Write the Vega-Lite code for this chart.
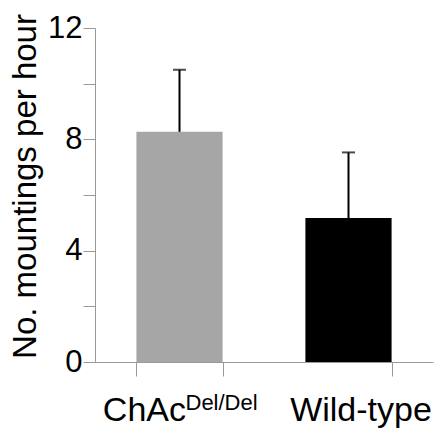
{
  "$schema": "https://vega.github.io/schema/vega-lite/v6.json",
  "width": 338,
  "height": 334,
  "autosize": {"type": "none"},
  "padding": {"left": 95, "top": 28, "right": 5, "bottom": 68},
  "background": "white",
  "config": {
    "view": {"stroke": null},
    "font": "Liberation Sans"
  },
  "data": {
    "values": [
      {"genotype": "ChAcDel/Del", "mean": 8.27, "upper": 10.5},
      {"genotype": "Wild-type", "mean": 5.17, "upper": 7.53}
    ]
  },
  "encoding": {
    "x": {
      "field": "genotype",
      "type": "nominal",
      "sort": null,
      "scale": {"paddingInner": 0.49, "paddingOuter": 0.245},
      "axis": {
        "title": null,
        "labelAngle": 0,
        "labelFont": "Liberation Sans",
        "labelFontSize": 34,
        "labelColor": "#000000",
        "labelPadding": 17,
        "labelOverlap": false,
        "labelFlush": false,
        "labelLimit": 300,
        "labelExpr": "datum.value == 'ChAcDel/Del' ? 'ChAc' : datum.label",
        "labelAlign": {"condition": {"test": "datum.value == 'ChAcDel/Del'", "value": "right"}, "value": "center"},
        "labelOffset": {"condition": {"test": "datum.value == 'ChAcDel/Del'", "value": 6}, "value": 12},
        "tickBand": "extent",
        "tickSize": 14,
        "tickColor": "#999999",
        "tickWidth": 1,
        "domainColor": "#999999",
        "domainWidth": 1
      }
    }
  },
  "layer": [
    {
      "mark": {"type": "bar"},
      "encoding": {
        "y": {
          "field": "mean",
          "type": "quantitative",
          "scale": {"domain": [0, 12], "nice": false},
          "axis": {
            "title": "No. mountings per hour",
            "titleFont": "Liberation Sans",
            "titleFontSize": 33,
            "titleFontWeight": "normal",
            "titleColor": "#000000",
            "titlePadding": 5,
            "titleY": 158,
            "values": [0, 2, 4, 6, 8, 10, 12],
            "labelExpr": "datum.value % 4 === 0 ? datum.label : ''",
            "labelFont": "Liberation Sans",
            "labelFontSize": 31,
            "labelColor": "#000000",
            "labelPadding": 1,
            "tickSize": 12,
            "tickColor": "#999999",
            "tickWidth": 1,
            "domainColor": "#999999",
            "domainWidth": 1,
            "grid": false
          }
        },
        "color": {
          "field": "genotype",
          "type": "nominal",
          "scale": {"domain": ["ChAcDel/Del", "Wild-type"], "range": ["#a6a6a6", "#000000"]},
          "legend": null
        }
      }
    },
    {
      "mark": {"type": "rule", "color": "#000000", "strokeWidth": 2},
      "encoding": {
        "y": {"field": "mean", "type": "quantitative"},
        "y2": {"field": "upper"}
      }
    },
    {
      "mark": {"type": "tick", "color": "#000000", "size": 13, "thickness": 2},
      "encoding": {
        "y": {"field": "upper", "type": "quantitative"}
      }
    },
    {
      "transform": [{"filter": "datum.genotype == 'ChAcDel/Del'"}],
      "mark": {"type": "text", "align": "left", "baseline": "alphabetic", "dx": 6, "dy": 48, "fontSize": 22, "font": "Liberation Sans", "color": "#000000"},
      "encoding": {
        "y": {"datum": 0, "type": "quantitative"},
        "text": {"value": "Del/Del"}
      }
    }
  ]
}
